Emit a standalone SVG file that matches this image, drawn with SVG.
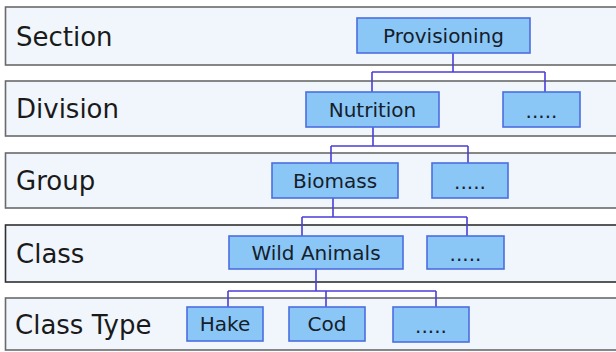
<svg xmlns="http://www.w3.org/2000/svg" width="616" height="352" viewBox="0 0 616 352">
<style>
.band{fill:#f1f6fc;stroke:#6a6a6a;stroke-width:1.6}
.band.dark{stroke:#303030}
.lbl{font-family:"DejaVu Sans",Verdana,sans-serif;font-size:26px;fill:#1a1a1a}
.node rect{fill:#8bc7f6;stroke:#4b6ee0;stroke-width:1.6}
.node text{font-family:"DejaVu Sans",Verdana,sans-serif;font-size:20px;fill:#15202b;text-anchor:middle}
.conn{fill:none;stroke:#4a3fd6;stroke-width:1.6}
</style>
<rect width="616" height="352" fill="#ffffff"/>
<g id="bands">
<rect class="band" x="5.5" y="7" width="620" height="58"/>
<rect class="band" x="5.5" y="81" width="620" height="55"/>
<rect class="band" x="5.5" y="153" width="620" height="55"/>
<rect class="band dark" x="5.5" y="225" width="620" height="57"/>
<rect class="band" x="5.5" y="298" width="620" height="52"/>
</g>
<g id="labels">
<text class="lbl" x="16" y="46">Section</text>
<text class="lbl" x="16" y="118">Division</text>
<text class="lbl" x="16" y="190">Group</text>
<text class="lbl" x="16" y="263">Class</text>
<text class="lbl" x="15" y="334">Class Type</text>
</g>
<g id="connectors">
<path class="conn" d="M453,53 V72 M372,72 H545 M372,72 V92 M545,72 V92"/>
<path class="conn" d="M373,127 V146 M331,146 H468 M331,146 V163 M468,146 V163"/>
<path class="conn" d="M333,198 V217 M302,217 H467 M302,217 V236 M467,217 V236"/>
<path class="conn" d="M316,269 V291 M228,291 H436 M228,291 V307 M326,291 V307 M436,291 V307"/>
</g>
<g id="n-provisioning" class="node"><rect x="357" y="18" width="173" height="35"/><text x="443.5" y="42.5">Provisioning</text></g>
<g id="n-nutrition" class="node"><rect x="306" y="92" width="133" height="35"/><text x="372.5" y="116.5">Nutrition</text></g>
<g id="n-div-more" class="node"><rect x="503" y="92" width="77" height="35"/><text x="541.5" y="118">.....</text></g>
<g id="n-biomass" class="node"><rect x="272" y="163" width="126" height="35"/><text x="335" y="187.5">Biomass</text></g>
<g id="n-group-more" class="node"><rect x="432" y="163" width="76" height="35"/><text x="470" y="189">.....</text></g>
<g id="n-wild-animals" class="node"><rect x="229" y="236" width="174" height="33"/><text x="316" y="259.5">Wild Animals</text></g>
<g id="n-class-more" class="node"><rect x="427" y="236" width="77" height="33"/><text x="465.5" y="261">.....</text></g>
<g id="n-hake" class="node"><rect x="187" y="307" width="76" height="34"/><text x="225" y="331">Hake</text></g>
<g id="n-cod" class="node"><rect x="289" y="307" width="76" height="34"/><text x="327" y="331">Cod</text></g>
<g id="n-type-more" class="node"><rect x="393" y="307" width="76" height="35"/><text x="431" y="333">.....</text></g>
</svg>
